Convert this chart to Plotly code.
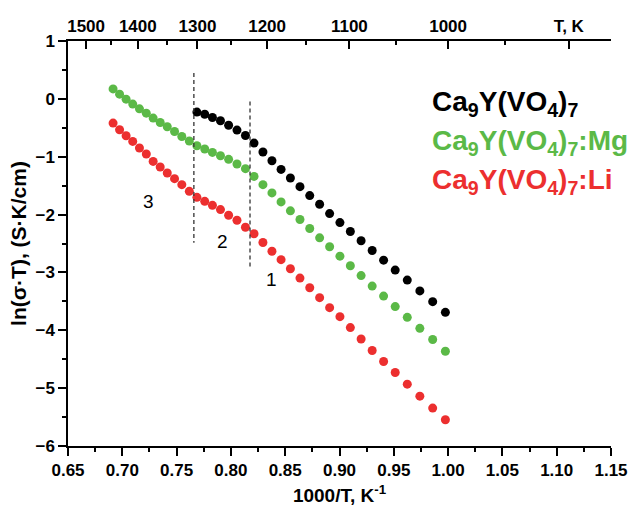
import plotly.graph_objects as go

# 1000/T values (K^-1), shared temperature grid
inv_T = [0.6915, 0.6975, 0.7035, 0.7096, 0.7158, 0.7221, 0.7284, 0.7349, 0.7414, 0.7481,
         0.7548, 0.7617, 0.7687, 0.7759, 0.7830, 0.7904, 0.7979, 0.8056, 0.8134, 0.8213,
         0.8295, 0.8378, 0.8462, 0.8548, 0.8636, 0.8726, 0.8817, 0.8909, 0.9004, 0.9100,
         0.9199, 0.9301, 0.9406, 0.9513, 0.9624, 0.9740, 0.9858, 0.9975]

# ln(sigma*T) series
black_y = [-0.229, -0.267, -0.322, -0.379, -0.457, -0.540, -0.634, -0.764, -0.919, -1.069,
           -1.219, -1.367, -1.517, -1.672, -1.822, -1.983, -2.138, -2.293, -2.452, -2.621,
           -2.788, -2.960, -3.133, -3.319, -3.505, -3.690]
green_y = [0.172, 0.081, -0.005, -0.091, -0.172, -0.247, -0.333, -0.409, -0.483, -0.564,
           -0.650, -0.729, -0.810, -0.867, -0.926, -0.983, -1.045, -1.126, -1.207, -1.340,
           -1.483, -1.626, -1.781, -1.936, -2.086, -2.241, -2.402, -2.557, -2.719, -2.884,
           -3.055, -3.236, -3.409, -3.591, -3.776, -3.966, -4.160, -4.362]
red_y = [-0.419, -0.534, -0.638, -0.736, -0.850, -0.953, -1.081, -1.178, -1.281, -1.379,
         -1.483, -1.598, -1.702, -1.771, -1.840, -1.914, -2.012, -2.098, -2.219, -2.331,
         -2.483, -2.633, -2.779, -2.936, -3.098, -3.264, -3.436, -3.609, -3.764, -3.953,
         -4.150, -4.350, -4.540, -4.729, -4.931, -5.138, -5.345, -5.547]
black_x = inv_T[12:]

series_names = ["Ca<sub>9</sub>Y(VO<sub>4</sub>)<sub>7</sub>",
                "Ca<sub>9</sub>Y(VO<sub>4</sub>)<sub>7</sub>:Mg",
                "Ca<sub>9</sub>Y(VO<sub>4</sub>)<sub>7</sub>:Li"]
series_colors = ["#000000", "#5bb947", "#ec2f2f"]

# region boundaries (dashed lines)
boundary_x = [0.7659, 0.8176]
boundary_top = [0.448, -0.046]
boundary_bottom = [-2.488, -2.936]

# region labels
region_text = ["3", "2", "1"]
region_x = [0.7244, 0.7925, 0.8372]
region_y = [-1.77, -2.46, -3.12]

# axes
x_range = [0.65, 1.15]
y_range = [-6, 1]
bottom_ticks = [0.65, 0.70, 0.75, 0.80, 0.85, 0.90, 0.95, 1.00, 1.05, 1.10, 1.15]
left_ticks = [1, 0, -1, -2, -3, -4, -5, -6]
top_T_major = [1500, 1400, 1300, 1200, 1100, 1000, 900]
top_T_labels = ["1500", "1400", "1300", "1200", "1100", "1000", "T, K"]
top_T_minor = [1450, 1350, 1250, 1150, 1050, 950]

FONT = "Liberation Sans, Arial, sans-serif"

plot_l, plot_r, plot_t, plot_b = 68, 620, 41, 447
W, H = 640, 515
pw, ph = plot_r - plot_l, plot_b - plot_t

fig = go.Figure()

for xs, ys, col in [(inv_T, green_y, series_colors[1]),
                    (inv_T, red_y, series_colors[2]),
                    (black_x, black_y, series_colors[0])]:
    fig.add_trace(go.Scatter(x=xs, y=ys, mode="markers",
                             marker=dict(size=9, color=col, line=dict(width=0)),
                             showlegend=False, hoverinfo="skip"))

for bx, bt, bb in zip(boundary_x, boundary_top, boundary_bottom):
    fig.add_trace(go.Scatter(x=[bx, bx], y=[bt, bb], mode="lines",
                             line=dict(color="#333333", width=1.3, dash="4px,3px"),
                             showlegend=False, hoverinfo="skip"))

# dummy trace to anchor the top axis
fig.add_trace(go.Scatter(x=[1000 / top_T_major[0]], y=[None], xaxis="x2",
                         mode="markers", showlegend=False, hoverinfo="skip"))

for t, x, y in zip(region_text, region_x, region_y):
    fig.add_annotation(x=x, y=y, text=t, showarrow=False,
                       font=dict(family=FONT, size=19, color="black"))

# legend text, positioned in pixels then converted to paper fractions
legend_px_x = 436
legend_px_y = [104, 143, 182]
for name, col, ly in zip(series_names, series_colors, legend_px_y):
    fig.add_annotation(x=(legend_px_x - plot_l) / pw, y=1 - (ly - plot_t) / ph,
                       xref="paper", yref="paper", text=name,
                       showarrow=False, xanchor="left", yanchor="middle",
                       font=dict(family=FONT, size=28, color=col, weight="bold"))

tickfont = dict(family=FONT, size=17, color="black", weight="bold")
titlefont = dict(family=FONT, size=19, color="black", weight="bold")

fig.update_layout(
    width=W, height=H,
    margin=dict(l=plot_l, r=W - plot_r, t=plot_t, b=H - plot_b),
    paper_bgcolor="white", plot_bgcolor="white",
    showlegend=False,
    xaxis=dict(range=x_range, tickvals=bottom_ticks,
               ticktext=[f"{v:.2f}" for v in bottom_ticks],
               ticks="outside", ticklen=8, tickwidth=1.5, tickcolor="black",
               minor=dict(dtick=0.025, tick0=0.65, ticks="outside", ticklen=4,
                          tickwidth=1.5, tickcolor="black"),
               showline=True, linecolor="black", linewidth=1.5, mirror=False,
               showgrid=False, zeroline=False, tickfont=tickfont,
               title=dict(text="1000/T, K<sup>-1</sup>", standoff=10, font=titlefont)),
    xaxis2=dict(range=x_range, overlaying="x", side="top",
                tickvals=[1000 / t for t in top_T_major], ticktext=top_T_labels,
                ticks="inside", ticklen=8, tickwidth=1.5, tickcolor="black",
                minor=dict(tickvals=[1000 / t for t in top_T_minor], ticks="inside",
                           ticklen=4, tickwidth=1.5, tickcolor="black"),
                showline=True, linecolor="black", linewidth=1.5,
                showgrid=False, zeroline=False, tickfont=tickfont),
    yaxis=dict(range=y_range, tickvals=left_ticks, ticks="outside", ticklen=8,
               tickwidth=1.5, tickcolor="black",
               minor=dict(dtick=0.5, tick0=0, ticks="outside", ticklen=4,
                          tickwidth=1.5, tickcolor="black"),
               showline=True, linecolor="black", linewidth=1.5,
               showgrid=False, zeroline=False, tickfont=tickfont,
               title=dict(text="ln(σ·T), (S·K/cm)", standoff=3,
                          font=dict(family=FONT, size=21, color="black", weight="bold"))),
)

fig.write_html("out.html")
